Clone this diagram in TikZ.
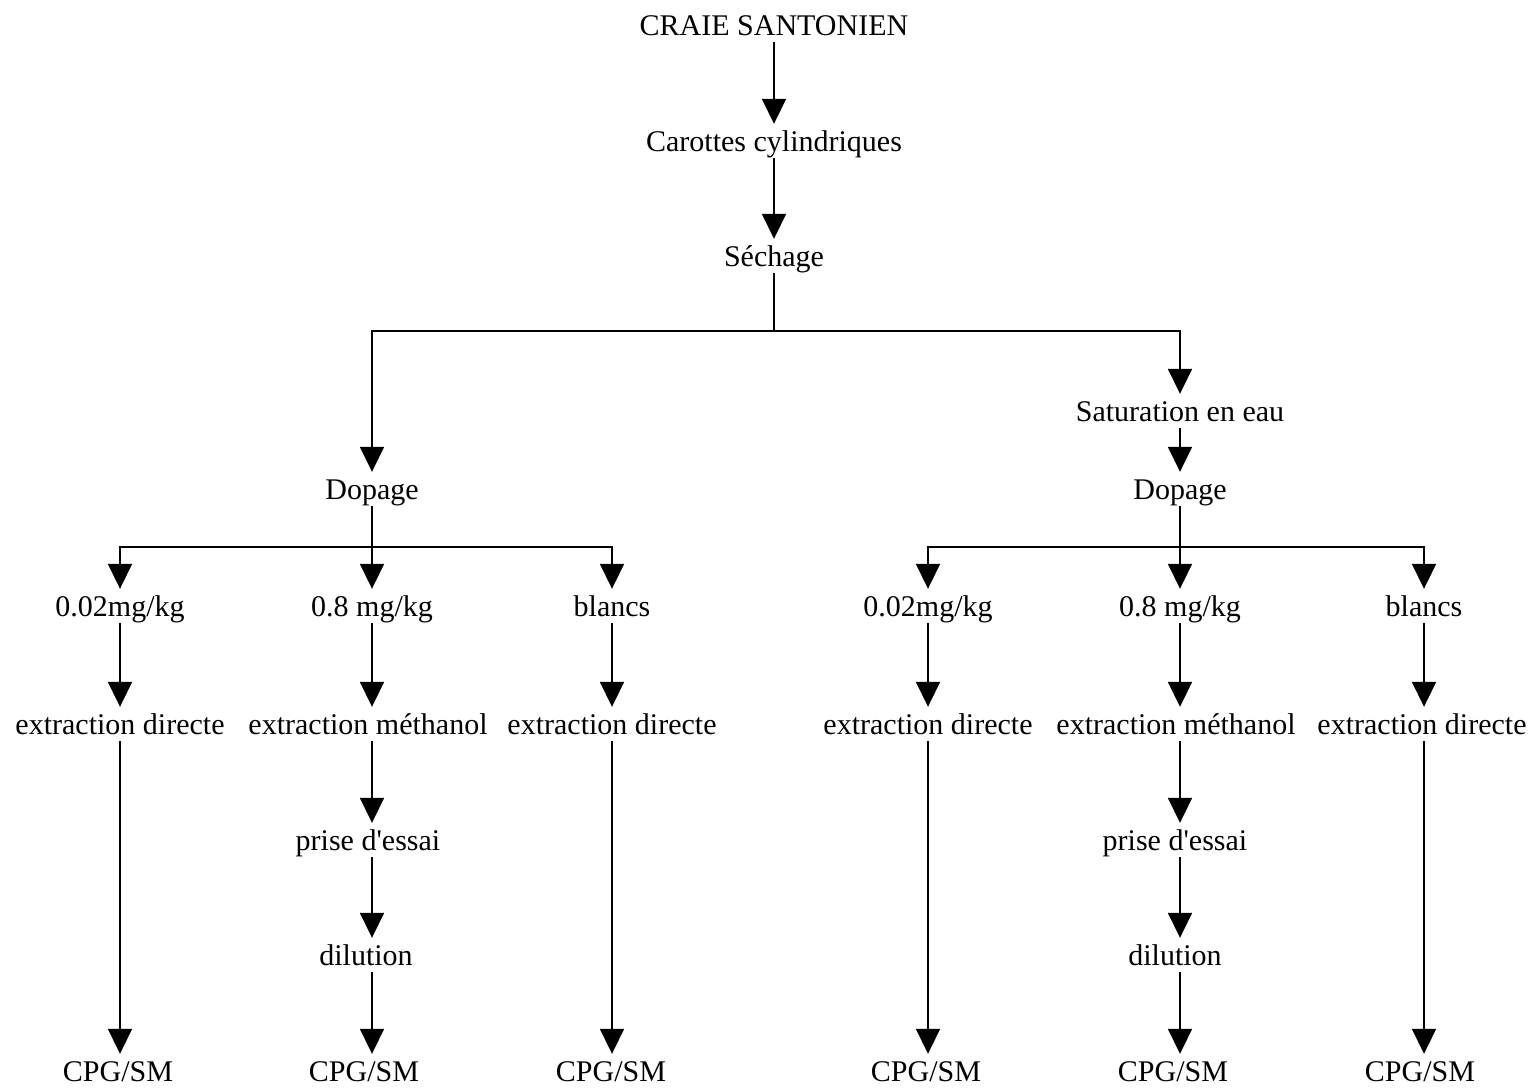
\documentclass[tikz,border=0pt]{standalone}
\usepackage{fontspec}
\setmainfont{Liberation Serif}
\usetikzlibrary{arrows.meta}
\begin{document}
\begin{tikzpicture}[x=1pt,y=-1pt,
  lbl/.style={font=\fontsize{30}{36}\selectfont, text height=24pt, text depth=4pt, inner sep=3pt},
  arr/.style={line width=1.8pt, -{Triangle[length=25pt,width=24pt]}},
  ln/.style={line width=1.8pt}]
\useasboundingbox (0,0) rectangle (1534,1088);
% top chain
\node[lbl] (craie) at (774,25) {CRAIE SANTONIEN};
\node[lbl] (car) at (774,141) {Carottes cylindriques};
\node[lbl] (sech) at (774,256) {Séchage};
\coordinate (bar) at (774,331);
\node[lbl] (dopL) at (372,489) {Dopage};
\node[lbl] (sat) at (1180,411) {Saturation en eau};
\node[lbl] (dopR) at (1180,489) {Dopage};
\draw[arr] (craie) -- (car);
\draw[arr] (car) -- (sech);
\draw[ln] (sech.south) -- (bar);
\draw[arr] (bar) -| (dopL.north);
\draw[arr] (bar) -| (sat.north);
\draw[arr] (sat) -- (dopR);
% left branch
\coordinate (barL) at (372,547);
\node[lbl] (aL) at (120,606) {0.02mg/kg};
\node[lbl] (bL) at (372,606) {0.8 mg/kg};
\node[lbl] (cL) at (612,606) {blancs};
\node[lbl] (eaL) at (120,724) {extraction directe};
\node[lbl] (ebL) at (368,724) {extraction méthanol};
\node[lbl] (ecL) at (612,724) {extraction directe};
\node[lbl] (pL) at (368,840) {prise d\textquotesingle essai};
\node[lbl] (dL) at (366,955) {dilution};
\node[lbl] (faL) at (118,1071) {CPG/SM};
\node[lbl] (fbL) at (364,1071) {CPG/SM};
\node[lbl] (fcL) at (611,1071) {CPG/SM};
\draw[ln] (dopL.south) -- (barL);
\draw[arr] (barL) -| (aL.north);
\draw[arr] (barL) -| (cL.north);
\draw[arr] (barL) -- (bL.north);
\draw[arr] (aL.south) -- (aL.south |- eaL.north);
\draw[arr] (bL.south) -- (bL.south |- ebL.north);
\draw[arr] (cL.south) -- (cL.south |- ecL.north);
\draw[arr] (eaL.south -| aL) -- (aL |- faL.north);
\draw[arr] (ecL.south -| cL) -- (cL |- fcL.north);
\draw[arr] (ebL.south -| bL) -- (bL |- pL.north);
\draw[arr] (pL.south -| bL) -- (bL |- dL.north);
\draw[arr] (dL.south -| bL) -- (bL |- fbL.north);
% right branch
\coordinate (barR) at (1180,547);
\node[lbl] (aR) at (928,606) {0.02mg/kg};
\node[lbl] (bR) at (1180,606) {0.8 mg/kg};
\node[lbl] (cR) at (1424,606) {blancs};
\node[lbl] (eaR) at (928,724) {extraction directe};
\node[lbl] (ebR) at (1176,724) {extraction méthanol};
\node[lbl] (ecR) at (1422,724) {extraction directe};
\node[lbl] (pR) at (1175,840) {prise d\textquotesingle essai};
\node[lbl] (dR) at (1175,955) {dilution};
\node[lbl] (faR) at (926,1071) {CPG/SM};
\node[lbl] (fbR) at (1173,1071) {CPG/SM};
\node[lbl] (fcR) at (1420,1071) {CPG/SM};
\draw[ln] (dopR.south) -- (barR);
\draw[arr] (barR) -| (aR.north);
\draw[arr] (barR) -| (cR.north);
\draw[arr] (barR) -- (bR.north);
\draw[arr] (aR.south) -- (aR.south |- eaR.north);
\draw[arr] (bR.south) -- (bR.south |- ebR.north);
\draw[arr] (cR.south) -- (cR.south |- ecR.north);
\draw[arr] (eaR.south -| aR) -- (aR |- faR.north);
\draw[arr] (ecR.south -| cR) -- (cR |- fcR.north);
\draw[arr] (ebR.south -| bR) -- (bR |- pR.north);
\draw[arr] (pR.south -| bR) -- (bR |- dR.north);
\draw[arr] (dR.south -| bR) -- (bR |- fbR.north);
\end{tikzpicture}
\end{document}
